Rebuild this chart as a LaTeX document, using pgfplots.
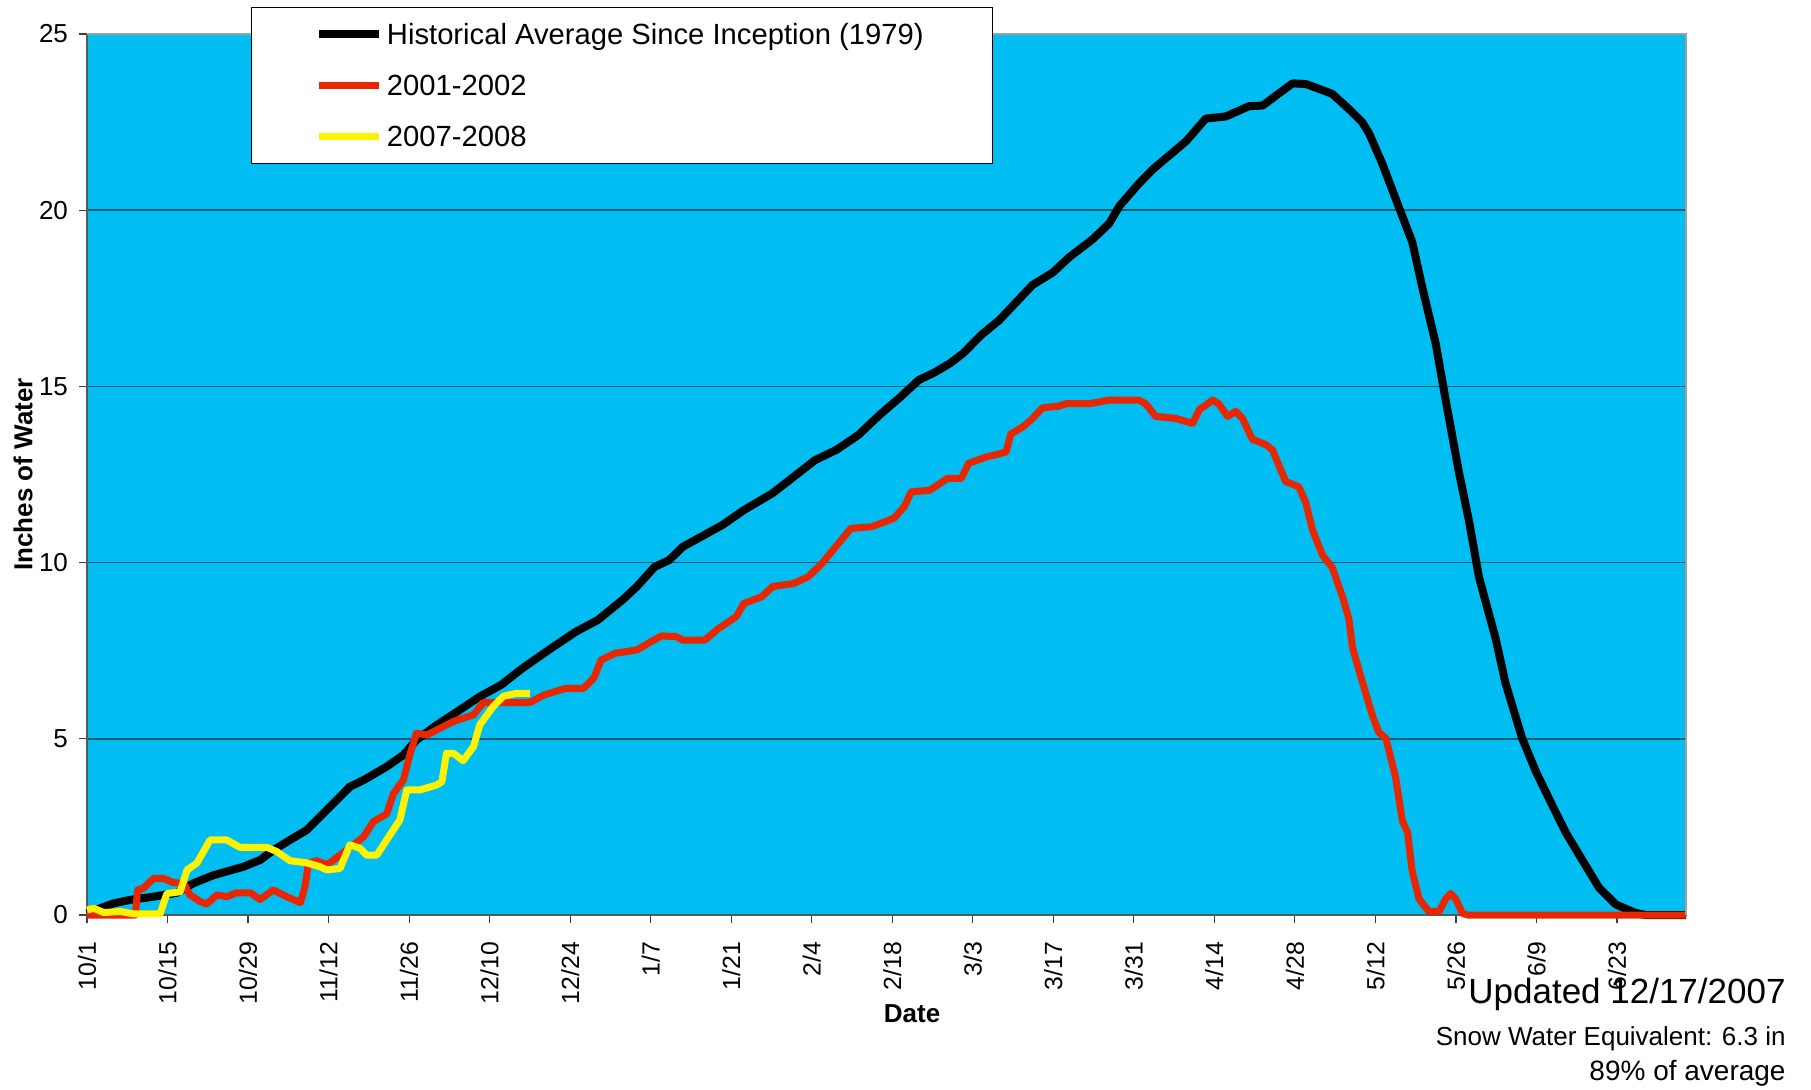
\documentclass[border=0pt]{standalone}
\usepackage{pgfplots}
\pgfplotsset{compat=1.18}
\usepackage{fontspec}
\setmainfont{Liberation Sans}
\definecolor{skyb}{RGB}{0,190,242}
\definecolor{gridc}{RGB}{20,90,115}
\definecolor{redl}{RGB}{232,38,0}
\definecolor{yell}{RGB}{255,242,0}
\begin{document}
\begin{tikzpicture}
\useasboundingbox (-43.5pt,-87pt) rectangle (862pt,457.5pt);
\begin{axis}[
  scale only axis, width=799.5pt, height=440.5pt,
  at={(0pt,0pt)}, anchor=south west,
  xmin=0, xmax=278, ymin=0, ymax=25,
  clip=false,
  axis background/.style={fill=skyb},
  ytick={0,5,...,25},
  xtick={0,14,...,266},
  xticklabels={10/1,10/15,10/29,11/12,11/26,12/10,12/24,1/7,1/21,2/4,2/18,3/3,3/17,3/31,4/14,4/28,5/12,5/26,6/9,6/23},
  ymajorgrids, grid style={gridc, line width=0.8pt},
  tick align=outside, major tick length=4pt,
  tick style={black!75, line width=0.6pt},
  xtick pos=left, ytick pos=left,
  axis line style={draw=gray!70!black, line width=1pt},
  /pgf/number format/assume math mode=true,
  yticklabel style={font=\fontsize{13}{13}\selectfont},
  yticklabel shift=2pt,
  xticklabel style={rotate=90, anchor=east, font=\fontsize{12.4}{12.4}\selectfont},
  xticklabel shift=6pt,
  ylabel={Inches of Water},
  ylabel style={at={(axis description cs:-0.040,0.5)}, anchor=center, font=\bfseries\fontsize{13}{13}\selectfont},
  xlabel={Date},
  xlabel style={at={(axis description cs:0.516,-0.1124)}, anchor=center, font=\bfseries\fontsize{13}{13}\selectfont},
  legend cell align=left,
  legend style={at={(0.1023,1.0303)}, anchor=north west, draw=black, fill=white,
    inner xsep=32pt, inner ysep=0.6pt, row sep=0pt,
    font=\fontsize{14.6}{16}\selectfont,
    nodes={inner sep=2pt, text height=15.75pt, text depth=5.75pt}},
  legend image code/.code={\path (0pt,-5pt); \draw[#1] (0pt,0pt) -- (30pt,0pt);},
]
\addplot[black, line width=4pt, line join=round] coordinates {
(0,0.05) (2.3,0.19) (4.6,0.33) (7.5,0.43) (11.6,0.52) (15.6,0.63) (18.5,0.90)
(22,1.13) (27.2,1.37) (30.1,1.56) (32.4,1.84) (35.3,2.13) (38.2,2.41) (41.7,2.98)
(45.7,3.64) (48.1,3.83) (52.1,4.21) (55,4.54) (57.3,4.97) (60.8,5.39) (63.7,5.70)
(68.3,6.2) (72.0,6.53) (75.7,7.0) (80.7,7.57) (85.0,8.04) (88.8,8.37) (93.1,8.94)
(95.6,9.32) (98.7,9.88) (101.2,10.07) (103.6,10.45) (110.5,11.07) (114.2,11.49)
(119.2,11.97) (122.9,12.44) (126.6,12.91) (130.3,13.2) (134.1,13.62) (137.8,14.19)
(141.5,14.71) (144.6,15.18) (147.4,15.4) (150,15.65) (152.4,15.95) (155.4,16.45)
(158.6,16.88) (161.5,17.38) (164.4,17.88) (167.9,18.23) (170.8,18.67) (174.8,19.17)
(177.7,19.62) (179.5,20.12) (182.9,20.76) (185.3,21.16) (188.2,21.56) (191.1,21.96)
(194.5,22.6) (198.0,22.66) (202.0,22.95) (204.4,22.97) (206.7,23.25) (209.6,23.6)
(211.9,23.58) (215.4,23.37) (216.5,23.30) (219.4,22.87) (221.7,22.5) (222.9,22.18)
(225.2,21.32) (228.7,19.82) (230.4,19.1) (232.2,17.78) (234.5,16.2) (236.2,14.63)
(238.5,12.58) (240.3,11.16) (242.0,9.59) (244.9,7.85) (246.6,6.59) (249.5,5.02)
(251.9,4.07) (254.7,3.13) (257.1,2.34) (260.0,1.55) (262.9,0.77) (265.8,0.30)
(269.2,0.06) (271,0) (278,0)
};
\addlegendentry{\makebox[268.5pt][l]{Historical Average Since Inception (1979)}}
\addplot[redl, line width=3.5pt, line join=round] coordinates {
(0,0) (8.4,0) (8.8,0.71) (9.8,0.76) (11.6,1.04) (13.3,1.04) (15,0.92) (16.8,0.90)
(17.9,0.57) (19.7,0.38) (20.8,0.31) (22.6,0.57) (24.3,0.52) (26,0.63) (28.4,0.63)
(30.1,0.44) (32.4,0.71) (34.7,0.52) (37.1,0.35) (37.9,0.8) (38.5,1.47) (40,1.54)
(41.7,1.42) (44,1.7) (46.3,1.99) (48.1,2.22) (49.8,2.65) (52.1,2.87) (53.3,3.45)
(55,3.83) (56.2,4.59) (57.3,5.16) (59.1,5.11) (63.7,5.49) (67.2,5.68) (68.9,6.03)
(77,6.03) (79.4,6.24) (83.2,6.43) (86.3,6.43) (88.1,6.72) (89.4,7.24) (91.9,7.43)
(95.6,7.52) (98.1,7.76) (99.9,7.92) (102.4,7.9) (103.6,7.80) (107.4,7.80) (109.8,8.13)
(112.9,8.47) (114.2,8.84) (117.3,9.03) (119.2,9.32) (122.9,9.41) (125.4,9.6)
(127.8,9.98) (132.8,10.97) (136.5,11.02) (140.3,11.26) (142.1,11.59) (143.3,12.01)
(146.5,12.05) (149.6,12.39) (152.0,12.39) (153.3,12.82) (156.4,13.0) (158.9,13.1)
(159.8,13.14) (160.6,13.65) (162.7,13.85) (164.4,14.09) (166.1,14.39) (169.0,14.44)
(170.2,14.51) (174.3,14.51) (177.7,14.61) (182.9,14.61) (184.1,14.5) (185.8,14.15)
(189.3,14.09) (192.2,13.95) (193.4,14.34) (195.7,14.61) (196.8,14.5) (198.3,14.15)
(199.7,14.29) (200.9,14.09) (202.6,13.5) (204.9,13.35) (206.1,13.2) (208.4,12.3)
(210.7,12.15) (211.9,11.7) (213.1,10.91) (214.8,10.21) (216.5,9.86) (218.3,9.02)
(219.4,8.4) (220.0,7.6) (221.2,6.91) (223.5,5.65) (224.6,5.18) (225.8,5.02)
(227.5,3.92) (228.7,2.66) (229.6,2.34) (230.4,1.24) (231.6,0.45) (233.3,0.1)
(235.1,0.1) (236.2,0.45) (237.1,0.61) (238.0,0.45) (239.1,0.05) (240,0) (278,0)
};
\addlegendentry{\makebox[268.5pt][l]{2001-2002}}
\addplot[yell, line width=3.5pt, line join=round] coordinates {
(0,0.14) (1.2,0.19) (2.9,0.07) (5.8,0.10) (8.1,0.03) (12.7,0.03) (13.9,0.61)
(16.2,0.66) (17.4,1.28) (19.1,1.47) (21.4,2.13) (24.3,2.13) (26.6,1.92) (31.3,1.92)
(33,1.80) (35.3,1.54) (38.2,1.48) (40.5,1.37) (41.7,1.28) (44,1.32) (45.7,1.99)
(47.5,1.89) (48.6,1.70) (50.4,1.70) (52.1,2.13) (54.4,2.70) (55.6,3.55) (57.9,3.55)
(60.8,3.69) (61.7,3.78) (62.5,4.59) (63.7,4.59) (65.4,4.38) (67.2,4.78) (68.3,5.4)
(70.6,5.91) (72.4,6.21) (74.7,6.29) (77,6.29)
};
\addlegendentry{\makebox[268.5pt][l]{2007-2008}}
\draw[gray!75, line width=1.2pt] (rel axis cs:0,1) -- (rel axis cs:1,1) -- (rel axis cs:1,0);
\end{axis}
\node[anchor=base east, inner sep=0pt, font=\fontsize{17.5}{17.5}\selectfont] at (849.5pt,-44pt) {Updated 12/17/2007};
\node[anchor=base east, inner sep=0pt, font=\fontsize{13}{13}\selectfont] at (849.5pt,-65pt) {Snow Water Equivalent: 6.3 in};
\node[anchor=base east, inner sep=0pt, font=\fontsize{14}{14}\selectfont] at (849.5pt,-82.5pt) {89\% of average};
\end{tikzpicture}
\end{document}
